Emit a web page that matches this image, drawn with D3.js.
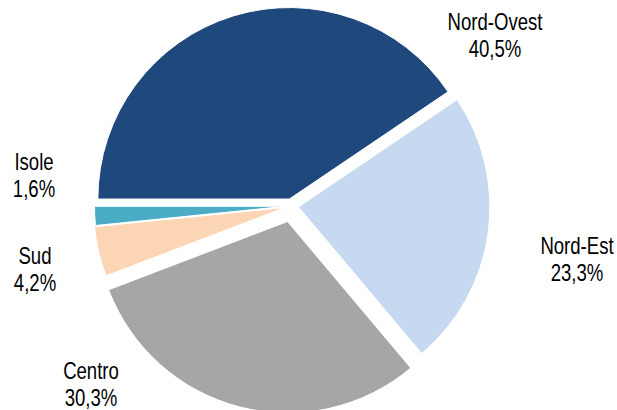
<!DOCTYPE html>
<html>
<head>
<meta charset="utf-8">
<script src="https://cdn.jsdelivr.net/npm/d3@7/dist/d3.min.js"></script>
<style>
  html, body { margin: 0; padding: 0; background: #ffffff; }
  svg { display: block; }
  .lbl { font-family: "Liberation Sans", Arial, sans-serif; font-size: 23.5px; fill: #000; }
</style>
</head>
<body>
<svg id="chart" width="617" height="410"></svg>
<script>
// Distribuzione per ripartizione geografica (%)
const categories = ["Nord-Ovest", "Nord-Est", "Centro", "Sud", "Isole"];
const values = [40.5, 23.3, 30.3, 4.2, 1.6];

// Slice styling
const colors = ["#1F497D", "#C6D9F1", "#A6A6A6", "#FCD5B5", "#4BACC6"];
const explode = [7.3, 7, 16, 6.7, 5.5];

// Label anchor points (text centre, first baseline)
const labelPos = [
  [495, 30], [577, 254], [91, 379], [35, 264], [34, 170]
];
// Condensed lettering: horizontal squeeze of the sans face
const narrow = 0.79;

const cx = 291.5, cy = 206, R = 191.5;
const fmt = v => d3.format(".1f")(v).replace(".", ",") + "%";

const svg = d3.select("#chart");
const g = svg.append("g").attr("transform", `translate(${cx},${cy})`);

const pie = d3.pie().sort(null).value(d => d.value)
  .startAngle(-Math.PI / 2).endAngle(1.5 * Math.PI);
const arc = d3.arc().innerRadius(0).outerRadius(R);

const data = categories.map((c, i) => ({ name: c, value: values[i], i }));
const arcs = pie(data);

g.selectAll("path.slice")
  .data(arcs)
  .join("path")
  .attr("class", "slice")
  .attr("d", arc)
  .attr("fill", d => colors[d.data.i])
  .attr("stroke", "#ffffff")
  .attr("stroke-width", 1)
  .attr("transform", d => {
    const a = (d.startAngle + d.endAngle) / 2;
    const off = explode[d.data.i];
    return `translate(${off * Math.sin(a)},${-off * Math.cos(a)})`;
  });

const lblG = svg.selectAll("g.lblg")
  .data(arcs)
  .join("g")
  .attr("class", "lblg")
  .attr("transform", d => `translate(${labelPos[d.data.i][0]},${labelPos[d.data.i][1]}) scale(${narrow},1)`);
const lbl = lblG.append("text").attr("class", "lbl").attr("text-anchor", "middle");
lbl.append("tspan").attr("x", 0).attr("y", 0).text(d => d.data.name);
lbl.append("tspan").attr("x", 0).attr("dy", 27.5).text(d => fmt(d.data.value));
</script>
</body>
</html>
